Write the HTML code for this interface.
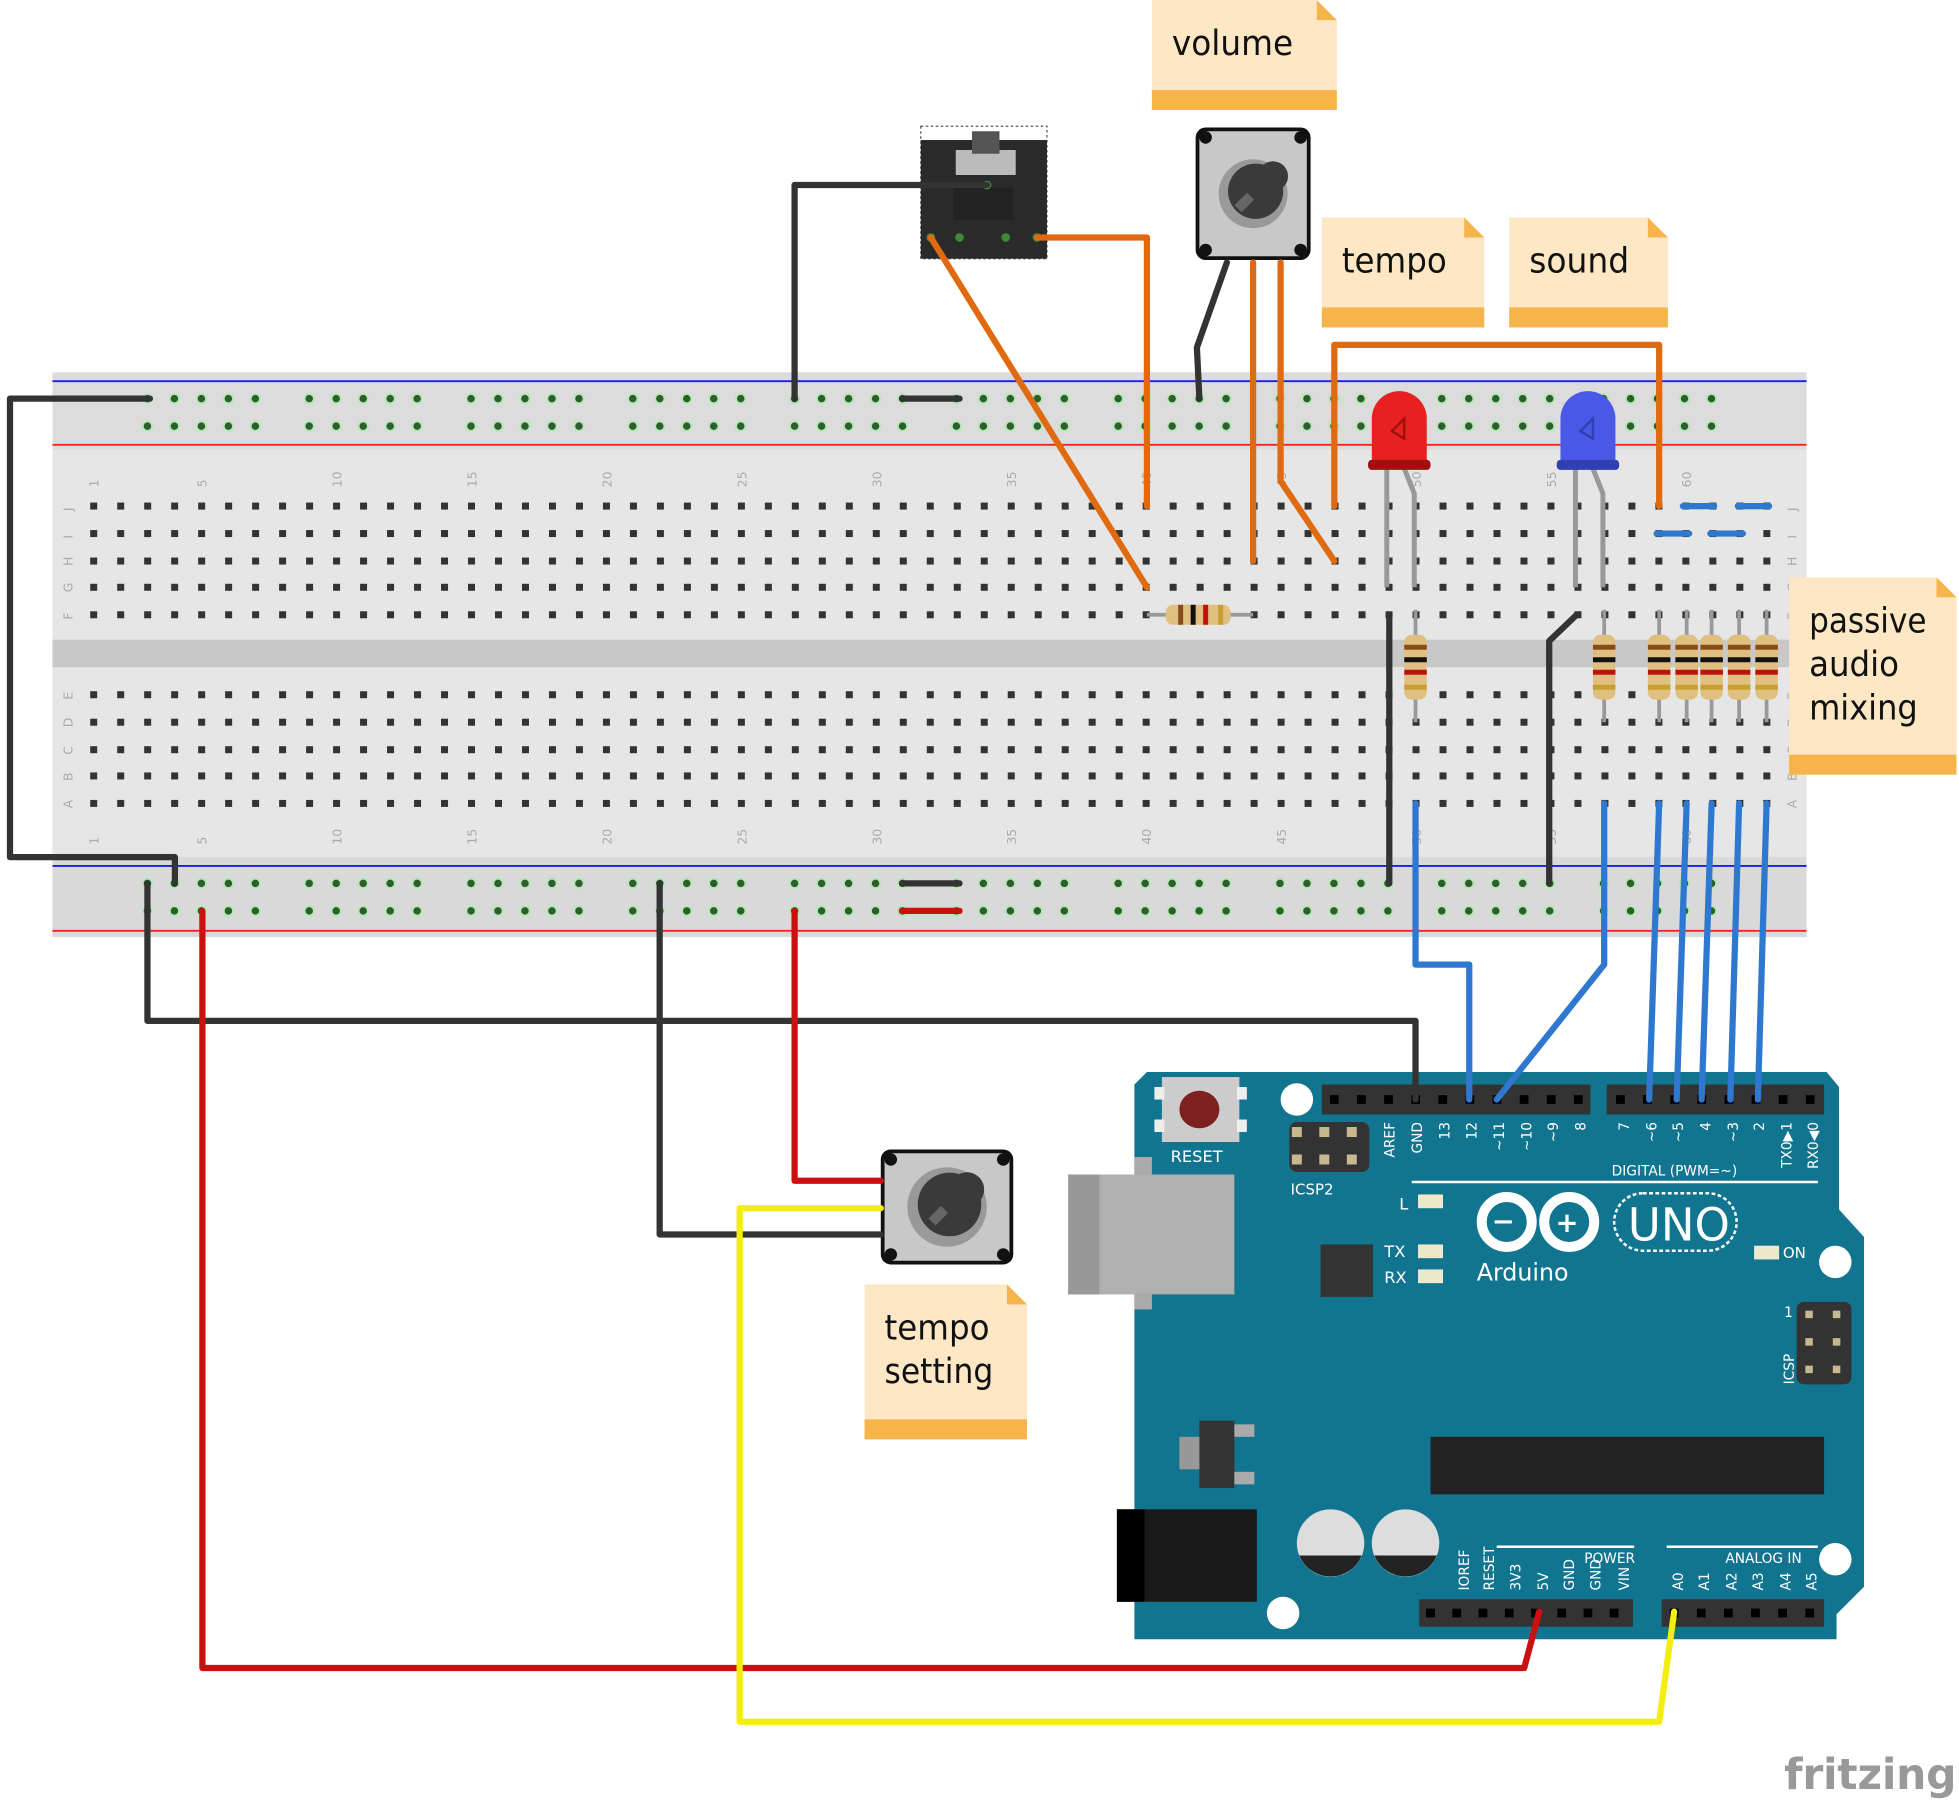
<!DOCTYPE html>
<html><head><meta charset="utf-8"><style>
html,body{margin:0;padding:0;background:#fff;width:1959px;height:1803px;overflow:hidden}
svg{display:block}
text{font-family:"DejaVu Sans","Liberation Sans",sans-serif}
</style></head><body>
<svg id="s" width="1959" height="1803" viewBox="0 0 1568 1443" xmlns="http://www.w3.org/2000/svg">
<rect x="42" y="298" width="1404" height="452" fill="#d9d9d9"/>
<rect x="42" y="298" width="1404" height="62" fill="#dcdcdc"/>
<rect x="42" y="360" width="1404" height="152" fill="#e6e6e6"/>
<rect x="42" y="512" width="1404" height="22" fill="#c8c8c8"/>
<rect x="42" y="534" width="1404" height="152" fill="#e6e6e6"/>
<line x1="42" y1="305" x2="1446" y2="305" stroke="#1a1aff" stroke-width="1.5"/>
<line x1="42" y1="356" x2="1446" y2="356" stroke="#ff2020" stroke-width="1.5"/>
<line x1="42" y1="693" x2="1446" y2="693" stroke="#1a1aff" stroke-width="1.5"/>
<line x1="42" y1="745" x2="1446" y2="745" stroke="#ff2020" stroke-width="1.5"/>
<g id="holes"></g>
<g font-size="10" fill="#aaa" id="nums"></g>
<g id="parts"></g>

<path d="M918 858 H1462 L1472 870 V968 L1492 990 V1270 L1470 1292 V1312 H908 V868 Z" fill="#12758f"/>
<rect x="930" y="862" width="62" height="52" fill="#ccc"/>
<rect x="924" y="870" width="8" height="10" fill="#eee"/><rect x="924" y="896" width="8" height="10" fill="#eee"/>
<rect x="990" y="870" width="8" height="10" fill="#eee"/><rect x="990" y="896" width="8" height="10" fill="#eee"/>
<ellipse cx="960" cy="888" rx="16" ry="15" fill="#7e2020"/>
<text x="937" y="930" font-size="13" fill="#fff" font-family="Liberation Mono,monospace">RESET</text>
<circle cx="1038" cy="880" r="13" fill="#fff"/>
<circle cx="1469" cy="1010" r="13" fill="#fff"/>
<circle cx="1469" cy="1248" r="13" fill="#fff"/>
<circle cx="1027" cy="1291" r="13" fill="#fff"/>
<rect x="855" y="940" width="133" height="96" fill="#b0b0b0"/>
<rect x="855" y="940" width="25" height="96" fill="#999"/>
<rect x="908" y="926" width="14" height="14" fill="#aaa"/><rect x="908" y="1036" width="14" height="12" fill="#aaa"/>
<rect x="1058" y="868" width="215" height="24" fill="#333"/>
<rect x="1286" y="868" width="174" height="24" fill="#333"/>
<rect x="1136" y="1280" width="171" height="22" fill="#333"/>
<rect x="1330" y="1280" width="130" height="22" fill="#333"/>
<rect x="1032" y="898" width="64" height="40" rx="6" fill="#333"/>
<text x="1033" y="956" font-size="12" fill="#fff" font-family="Liberation Mono,monospace">ICSP2</text>
<rect x="1438" y="1042" width="44" height="66" rx="6" fill="#333"/>
<text x="1436" y="1108" font-size="11" fill="#fff" transform="rotate(-90 1436 1108)" font-family="Liberation Mono,monospace">ICSP</text>
<text x="1428" y="1054" font-size="11" fill="#fff">1</text>
<rect x="1057" y="996" width="42" height="42" fill="#333"/>
<text x="1120" y="968" font-size="13" fill="#fff" font-family="Liberation Mono,monospace">L</text>
<text x="1108" y="1006" font-size="13" fill="#fff" font-family="Liberation Mono,monospace">TX</text>
<text x="1108" y="1027" font-size="13" fill="#fff" font-family="Liberation Mono,monospace">RX</text>
<rect x="1135" y="956" width="20" height="11" fill="#eee8cc"/>
<rect x="1135" y="996" width="20" height="11" fill="#eee8cc"/>
<rect x="1135" y="1016" width="20" height="11" fill="#eee8cc"/>
<rect x="1404" y="997" width="20" height="11" fill="#eee8cc"/>
<text x="1427" y="1007" font-size="12" fill="#fff" font-family="Liberation Mono,monospace">ON</text>
<line x1="1130" y1="946" x2="1455" y2="946" stroke="#fff" stroke-width="2"/>
<text x="1290" y="941" font-size="11" fill="#fff" font-family="Liberation Mono,monospace">DIGITAL (PWM=~)</text>
<g fill="none" stroke="#fff" stroke-width="8">
<circle cx="1206" cy="978" r="20"/><circle cx="1256" cy="978" r="20"/></g>
<text x="1194" y="985" font-size="22" fill="#fff" font-weight="bold">−</text>
<text x="1245" y="986" font-size="22" fill="#fff" font-weight="bold">+</text>
<rect x="1292" y="955" width="98" height="46" rx="23" fill="none" stroke="#fff" stroke-width="2" stroke-dasharray="3 2"/>
<text x="1303" y="993" font-size="36" fill="#fff">UNO</text>
<text x="1182" y="1025" font-size="19" fill="#fff" font-family="Liberation Mono,monospace">Arduino</text>
<rect x="1145" y="1150" width="315" height="46" fill="#222"/>
<rect x="960" y="1137" width="28" height="54" fill="#333"/><rect x="944" y="1150" width="16" height="26" fill="#999"/>
<rect x="988" y="1140" width="16" height="10" fill="#aaa"/><rect x="988" y="1178" width="16" height="10" fill="#aaa"/>
<rect x="894" y="1208" width="112" height="74" fill="#1a1a1a"/><rect x="894" y="1208" width="22" height="74" fill="#000"/>
<g><circle cx="1065" cy="1235" r="27" fill="#ddd"/><path d="M1040 1245 A27 27 0 0 0 1090 1245 Z" fill="#222"/>
<circle cx="1125" cy="1235" r="27" fill="#ddd"/><path d="M1100 1245 A27 27 0 0 0 1150 1245 Z" fill="#222"/></g>
<line x1="1198" y1="1238" x2="1308" y2="1238" stroke="#fff" stroke-width="2"/>
<line x1="1334" y1="1238" x2="1455" y2="1238" stroke="#fff" stroke-width="2"/>
<text x="1268" y="1251" font-size="11" fill="#fff" font-family="Liberation Mono,monospace">POWER</text>
<text x="1381" y="1251" font-size="11" fill="#fff" font-family="Liberation Mono,monospace">ANALOG IN</text>
<g id="ard" font-size="11" fill="#fff" font-family="Liberation Mono,monospace"></g>

<g fill="none" stroke-linecap="round" stroke-linejoin="round" stroke-width="5" id="wires">
<polyline stroke="#333" points="120,319 8,319 8,686 140,686 140,707"/>
<polyline stroke="#333" points="636,319 636,148 790,148"/>
<polyline stroke="#333" points="982,210 958,278 960,319"/>
<polyline stroke="#333" points="722,319 768,319"/>
<polyline stroke="#333" points="1112,492 1112,707"/>
<polyline stroke="#333" points="1262,492 1240,513 1240,707"/>
<polyline stroke="#333" points="118,707 118,817 1133,817 1133,880"/>
<polyline stroke="#333" points="528,707 528,988 705,988"/>
<polyline stroke="#333" points="722,707 768,707"/>
<polyline stroke="#cc1010" points="722,729 768,729"/>
<polyline stroke="#e06a10" points="830,190 918,190 918,405"/>
<polyline stroke="#e06a10" points="745,190 918,470"/>
<polyline stroke="#e06a10" points="1003,210 1003,449"/>
<polyline stroke="#e06a10" points="1025,210 1025,385 1068,449"/>
<polyline stroke="#e06a10" points="1068,405 1068,276 1328,276 1328,405"/>
<polyline stroke="#2f78d0" points="1133,643 1133,772 1176,772 1176,880"/>
<polyline stroke="#2f78d0" points="1284,643 1284,772 1198,880"/>
<polyline stroke="#2f78d0" points="1328,643 1320,880"/>
<polyline stroke="#2f78d0" points="1350,643 1342,880"/>
<polyline stroke="#2f78d0" points="1370,643 1362,880"/>
<polyline stroke="#2f78d0" points="1392,643 1385,880"/>
<polyline stroke="#2f78d0" points="1414,643 1407,880"/>
<polyline stroke="#2f78d0" points="1347,405 1372,405"/>
<polyline stroke="#2f78d0" points="1391,405 1416,405"/>
<polyline stroke="#2f78d0" points="1326,427 1352,427"/>
<polyline stroke="#2f78d0" points="1369,427 1395,427"/>
<polyline stroke="#cc1010" points="162,729 162,1335 1220,1335 1232,1290"/>
<polyline stroke="#cc1010" points="636,729 636,945 705,945"/>
<polyline stroke="#f2ee10" points="705,967 592,967 592,1378 1328,1378 1340,1290"/>
</g>

<g id="notes" font-size="28" fill="#111" font-family="DejaVu Sans,Liberation Sans,sans-serif"></g>
<text x="1428" y="1432" font-size="34" fill="#999" font-weight="bold" font-family="DejaVu Sans,sans-serif" textLength="138">fritzing</text>
</svg>
<script>
const NS="http://www.w3.org/2000/svg";
function el(p,t,a){const e=document.createElementNS(NS,t);for(const k in a)e.setAttribute(k,a[k]);p.appendChild(e);return e;}
const H=document.getElementById('holes');
const colX=c=>75+(c-1)*21.6;
[405,427,449,470,492,556,578,600,621,643].forEach(y=>{for(let c=1;c<=63;c++){el(H,'rect',{x:colX(c)-2.8,y:y-2.8,width:5.6,height:5.6,fill:'#333'});}});
[319,341,707,729].forEach(y=>{for(let g=0;g<10;g++){const x0=118+g*129.5;for(let i=0;i<5;i++){const x=x0+i*21.6;el(H,'circle',{cx:x,cy:y,r:4.5,fill:'#b5e8b5'});el(H,'circle',{cx:x,cy:y,r:3,fill:'#2e5e2e'});}}});
const N=document.getElementById('nums');
[1,5,10,15,20,25,30,35,40,45,50,55,60].forEach(c=>{let x=colX(c)+4;el(N,'text',{x:x,y:390,transform:`rotate(-90 ${x} 390)`}).textContent=c;el(N,'text',{x:x,y:676,transform:`rotate(-90 ${x} 676)`}).textContent=c;});
['J','I','H','G','F'].forEach((l,i)=>{const y=[405,427,449,470,492][i]+4;el(N,'text',{x:58,y:y,transform:`rotate(-90 58 ${y})`}).textContent=l;el(N,'text',{x:1438,y:y,transform:`rotate(-90 1438 ${y})`}).textContent=l;});
['E','D','C','B','A'].forEach((l,i)=>{const y=[556,578,600,621,643][i]+4;el(N,'text',{x:58,y:y,transform:`rotate(-90 58 ${y})`}).textContent=l;el(N,'text',{x:1438,y:y,transform:`rotate(-90 1438 ${y})`}).textContent=l;});
const P=document.getElementById('parts');
function resH(x,y){el(P,'rect',{x:x,y:y-8,width:52,height:16,rx:6,fill:'#e0c080'});[[10,'#8a4a1a'],[20,'#111'],[30,'#c01010'],[42,'#c8a030']].forEach(b=>el(P,'rect',{x:x+b[0],y:y-8,width:4,height:16,fill:b[1]}));}
function resV(x,y){el(P,'line',{x1:x,y1:y-20,x2:x,y2:y+70,stroke:'#999','stroke-width':3});el(P,'rect',{x:x-9,y:y,width:18,height:52,rx:6,fill:'#e0c080'});[[8,'#8a4a1a'],[18,'#111'],[28,'#c01010'],[40,'#c8a030']].forEach(b=>el(P,'rect',{x:x-9,y:y+b[0],width:18,height:4,fill:b[1]}));}
el(P,'line',{x1:918,y1:492,x2:1003,y2:492,stroke:'#999','stroke-width':3});
resH(933,492);
resV(1133,508);resV(1284,508);[1328,1350,1370,1392,1414].forEach(x=>resV(x,508));
function led(x,c1,c2){el(P,'line',{x1:x-10,y1:375,x2:x-10,y2:470,stroke:'#999','stroke-width':4});el(P,'polyline',{points:`${x+4},375 ${x+12},395 ${x+12},470`,fill:'none',stroke:'#999','stroke-width':4});
el(P,'path',{d:`M${x-22} 372 V335 A22 22 0 0 1 ${x+22} 335 V372 Z`,fill:c1});el(P,'rect',{x:x-25,y:368,width:50,height:8,rx:3,fill:c2});el(P,'path',{d:`M${x-6} 345 l10 -10 v16 z`,fill:'none',stroke:c2,'stroke-width':2});}
led(1120,'#e82020','#a01010');led(1271,'#4a58e8','#3040b0');
el(P,'rect',{x:737,y:101,width:101,height:106,fill:'none',stroke:'#555','stroke-dasharray':'2 2'});
el(P,'rect',{x:737,y:112,width:101,height:95,fill:'#2a2a2a'});
el(P,'rect',{x:765,y:120,width:48,height:20,fill:'#bbb'});el(P,'rect',{x:778,y:105,width:22,height:18,fill:'#555'});
el(P,'rect',{x:763,y:150,width:48,height:26,fill:'#222'});
[[745,190],[768,190],[805,190],[830,190],[790,148]].forEach(p=>el(P,'circle',{cx:p[0],cy:p[1],r:3.5,fill:'#3a8a3a'}));
function pot(x,y,w,h){el(P,'rect',{x:x,y:y,width:w,height:h,rx:8,fill:'#111'});el(P,'rect',{x:x+3,y:y+3,width:w-6,height:h-6,rx:6,fill:'#c8c8c8'});
const cx=x+w/2,cy=y+h/2;el(P,'circle',{cx:cx,cy:cy,r:w*0.3,fill:'#999'});el(P,'circle',{cx:cx+2,cy:cy-2,r:w*0.24,fill:'#3a3a3a'});
el(P,'line',{x1:cx-4,y1:cy+4,x2:cx+16,y2:cy-14,stroke:'#3a3a3a','stroke-width':w*0.26,'stroke-linecap':'round'});
el(P,'line',{x1:cx-12,y1:cy+12,x2:cx-2,y2:cy+2,stroke:'#666','stroke-width':8});
[[x+8,y+8],[x+w-8,y+8],[x+8,y+h-8],[x+w-8,y+h-8]].forEach(p=>el(P,'circle',{cx:p[0],cy:p[1],r:5,fill:'#111'}));}
pot(957,102,92,106);pot(705,920,106,92);
const A=document.getElementById('ard');
function pins(x0,y,n,dx){for(let i=0;i<n;i++)el(A,'rect',{x:x0+i*dx-3.5,y:y-3.5,width:7,height:7,fill:'#000'});}
pins(1068,880,10,21.7);pins(1297,880,8,21.7);pins(1145,1291,8,21);pins(1340,1291,6,21.7);
[1038,1060,1082].forEach(x=>[906,928].forEach(y=>el(A,'rect',{x:x-4,y:y-4,width:8,height:8,fill:'#c8b890'})));
[1448,1470].forEach(x=>[1052,1074,1096].forEach(y=>el(A,'rect',{x:x-3,y:y-3,width:6,height:6,fill:'#c8b890'})));
const dl=[['AREF',1112],['GND',1134],['13',1156],['12',1178],['~11',1200],['~10',1222],['~9',1243],['8',1265],['7',1300],['~6',1322],['~5',1343],['4',1365],['~3',1387],['2',1408],['TX0▶1',1430],['RX0◀0',1451]];
dl.forEach(d=>{const t=el(A,'text',{x:d[1]+4,y:898,transform:`rotate(-90 ${d[1]+4} 898)`,'text-anchor':'end'});t.textContent=d[0];});
const pl=[['IOREF',1172],['RESET',1192],['3V3',1213],['5V',1235],['GND',1256],['GND',1277],['VIN',1300],['A0',1343],['A1',1364],['A2',1386],['A3',1407],['A4',1429],['A5',1450]];
pl.forEach(d=>{const t=el(A,'text',{x:d[1]+4,y:1273,transform:`rotate(-90 ${d[1]+4} 1273)`});t.textContent=d[0];});
const NO=document.getElementById('notes');
function note(x,y,w,h,lines,lens){el(NO,'path',{d:`M${x} ${y} H${x+w-16} L${x+w} ${y+16} V${y+h} H${x} Z`,fill:'#fde7c4'});
el(NO,'path',{d:`M${x+w-16} ${y} L${x+w} ${y+16} H${x+w-16} Z`,fill:'#f6b44a'});
el(NO,'rect',{x:x,y:y+h-16,width:w,height:16,fill:'#f6b44a'});
lines.forEach((l,i)=>{el(NO,'text',{x:x+16,y:y+44+i*35,textLength:lens[i],lengthAdjust:'spacingAndGlyphs'}).textContent=l;});}
note(922,0,148,88,['volume'],[97]);note(1058,174,130,88,['tempo'],[84]);note(1208,174,127,88,['sound'],[80]);
note(1432,462,134,158,['passive','audio','mixing'],[94,72,87]);note(692,1028,130,124,['tempo','setting'],[84,87]);
</script>
</body></html>
